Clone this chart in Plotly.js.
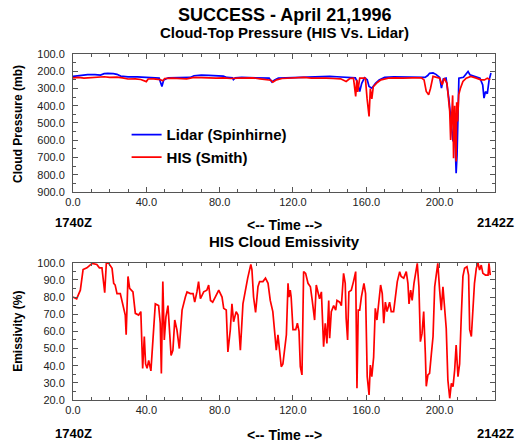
<!DOCTYPE html>
<html>
<head>
<meta charset="utf-8">
<script src="https://cdn.plot.ly/plotly-3.0.1.min.js"></script>
<style>html,body{margin:0;padding:0;background:#fff;}#chart{width:517px;height:443px;}</style>
</head>
<body>
<div id="chart"></div>
<script>
// ---- Top panel: cloud-top pressure (mb) vs time index ----
var lidarT = [0,2,5,8,12,15,17,19,22,24,26,30,35,40,44,47,48.5,49.5,52,56,60,64,66,70,74,78,82,84,87,87.5,88.5,92,96,100,104,107,108.5,110,112,116,120,124,128,132,136,140,144,148,150,152,154,155,156.4,157.5,159,160.5,161.5,163,165,167,170,175,180,185,190,192,193.5,194.5,196.4,198,200,201,202,203.5,205,206,207.3,208.2,209,209.5,210,210.5,213,215.5,216.5,220,222,223.5,224.2,225,226,227,228];
var lidarP = [230,228,222,220,220,222,214,212,214,218,228,233,233,235,237,240,288,250,238,237,236,236,226,222,224,226,228,236,238,248,238,236,237,236,238,240,262,250,240,238,238,236,232,234,232,230,232,236,238,240,238,260,317,270,238,250,288,298,270,250,236,232,233,234,235,236,225,212,210,218,236,298,245,240,356,462,607,530,791,685,336,240,235,201,220,230,240,280,356,318,330,250,210];

var hisT = [0,3,6,10,14,17,20,24,27,30,34,37,40,41,44,46,47.5,49,50,54,58,62,66,70,74,78,82,86,90,94,98,102,106,108,109,111,114,118,122,126,130,134,138,142,146,149,151,153,154.2,154.8,155.3,156.4,158,159.5,160.4,161.5,162.2,163,163.8,165,166,168,172,176,180,185,190,191.5,192.7,194,195,196.4,199,200,201.4,202.5,204,205.5,206,206.6,207.1,207.6,208.2,209,209.3,209.8,210.4,211.3,212.7,214.5,217,220,222.5,224.5,226,227.6];
var hisP = [238,236,240,236,236,232,236,234,238,245,244,248,260,245,244,246,248,255,242,240,240,244,236,238,238,240,238,242,240,240,238,244,250,252,263,250,242,240,238,236,240,238,240,242,244,259,242,240,346,250,320,240,238,240,356,462,300,360,290,275,265,250,240,238,240,238,238,250,317,336,300,230,235,240,278,240,270,433,598,400,340,704,400,723,380,491,336,300,259,240,230,240,250,250,240,250];

// ---- Bottom panel: HIS cloud emissivity (%) ----
var emisT = [0,2,4,5.5,7.6,10.4,13,14.4,15.8,16.7,17.3,18.2,19.5,21.3,22.2,23,24,25.8,27.3,28.5,29,30,30.9,32.7,34,35.8,37,37.6,38,38.9,39.6,40.4,41.3,42.5,43.6,44.9,46.7,47.6,48.2,49,49.8,50.7,51.8,52.5,53.5,54.5,55.5,56.7,58,59.5,60.4,61.3,62.2,64,65.5,66.4,67.6,68.5,69.5,71.3,73,74,75,76.2,77.6,79.5,81.3,82.2,83.6,84.5,85.8,86.7,87.6,89,90,91.3,92.7,94,95.3,97,97.6,98.5,99.6,100.9,101.8,103.6,105,106.4,107.6,109,110,110.9,111.8,112.7,113.6,114.5,115.5,116.4,117.3,117.8,118.5,119,120,121.5,122.4,123.3,124,124.9,125.8,126.9,128.2,129.5,130.5,131.8,132.7,133.6,134.5,135.5,136.7,137.6,138.5,139.5,140,140.9,142.2,143.3,144,145.5,146.4,147.6,148.5,149,149.8,150.5,151.8,153,154.2,154.9,155.6,156.4,157.3,158.7,159.6,160.5,161.5,162.2,163,164,164.9,165.8,166.9,167.8,168.7,169.5,170.4,171.3,172.7,173.6,174.9,176,176.9,178.2,179,180.4,181.8,182.7,183.3,184.2,185,186,186.9,187.8,188.7,189.5,190.4,191.3,192.2,192.7,193.6,194.5,195.5,196.4,197.3,198.2,199,200,200.9,201.8,202.7,203.6,204.5,205.5,206.4,207.3,208.2,209,210,210.9,211.8,212.7,213.6,214.9,215.8,216.4,217.3,218.2,219,220,220.9,221.8,222.7,223.6,225,226.4,226.9,227.6];
var emisV = [80,79,84,96,97,99.6,99,97,97,88,82.5,100,99.6,96.7,88,87,82,82,75,69.5,58,92,85,83,70.5,69.5,71.5,49,38.4,57,41,38.5,43,37,57,76,75,64.7,35.5,89,55,68.5,75,62.7,46,49,66.6,60.8,50,72.4,77,80,83,82,82,77,83,89,79,83,84,87,78,77,80,84,80,73.4,72.4,48,60.8,76,65.6,71.5,69.5,49,76,84,91,99,96,80,71,86,89,89,91,88,78,71.5,57,49,58,49,39.4,41,49,58,88,80,84,80,61,61,64.7,60,39.4,34.6,94.8,93.8,88,86,78,66.6,87,83,79,83,51,64.7,53,78,56,71.5,75,72.4,78,77,75,93.8,88,67.6,55,83,84,89,94.8,26.8,72.4,72.4,80,88,82,33.6,23,40.4,33.6,45,73.4,66.6,78,87,82,64.7,77,71.5,77,71.5,71.5,82,89,94.8,92,91,94.8,88,76,84,78,88,92.8,99.6,86,54,58.8,71.5,47,28,34.6,35.5,47,57,86,94.8,99.6,84,72.4,86,74.4,61.7,31.6,21,29.7,27.8,37.5,52,33.6,41,68.5,92,96.7,97.7,92.8,61,57,73.4,88,96.7,100,95.7,98.6,93.8,92.8,92.8,99.6,92.8];

var seriesNames = ['Lidar (Spinhirne)', 'HIS (Smith)'];
var xTickLabelsLeft = '1740Z', xTickLabelsRight = '2142Z', xAxisLabel = '<-- Time -->';

var traces = [
  {x: lidarT, y: lidarP, name: seriesNames[0], type: 'scatter', mode: 'lines',
   line: {color: '#0000ff', width: 1.7}, xaxis: 'x', yaxis: 'y'},
  {x: hisT, y: hisP, name: seriesNames[1], type: 'scatter', mode: 'lines',
   line: {color: '#ff0000', width: 1.7}, xaxis: 'x', yaxis: 'y'},
  {x: emisT, y: emisV, name: 'Emissivity', type: 'scatter', mode: 'lines', showlegend: false,
   line: {color: '#ff0000', width: 1.7}, xaxis: 'x2', yaxis: 'y2'}
];

var tickFont = {family: 'Liberation Sans, Arial, sans-serif', size: 11, color: '#222'};
function xax(anchor) {
  return {anchor: anchor, domain: [0, 1], range: [0, 230.2], tickmode: 'linear', tick0: 0, dtick: 40,
    tickformat: '.1f', ticks: 'inside', ticklen: 5, tickcolor: '#555', showline: true, linecolor: '#555',
    linewidth: 1, mirror: 'allticks', showgrid: false, zeroline: false, tickfont: tickFont,
    minor: {ticks: 'inside', ticklen: 3, tick0: 0, dtick: 10, tickcolor: '#555', showgrid: false}};
}
function yax(anchor, dom, rng, t0, dt, mdt) {
  return {anchor: anchor, domain: dom, range: rng, tickmode: 'linear', tick0: t0, dtick: dt,
    tickformat: '.1f', ticks: 'inside', ticklen: 5, tickcolor: '#555', showline: true, linecolor: '#555',
    linewidth: 1, mirror: 'allticks', showgrid: false, zeroline: false, tickfont: tickFont,
    ticklabelstandoff: 5,
    minor: {ticks: 'inside', ticklen: 3, tick0: t0, dtick: mdt, tickcolor: '#555', showgrid: false}};
}

var bold = function (s) { return {family: 'Liberation Sans, Arial, sans-serif', size: s, color: '#000', weight: 'bold'}; };
function ann(text, x, y, size, extra) {
  var a = {text: '<b>' + text + '</b>', x: x, y: y, xref: 'paper', yref: 'paper', showarrow: false,
    xanchor: 'center', yanchor: 'middle', font: bold(size)};
  for (var k in extra) a[k] = extra[k];
  return a;
}

var layout = {
  width: 517, height: 443,
  margin: {l: 73, r: 22, t: 54, b: 43},
  paper_bgcolor: '#fff', plot_bgcolor: '#fff',
  showlegend: true,
  legend: {x: 0.127, y: 0.814, xanchor: 'left', yanchor: 'top', bgcolor: 'rgba(0,0,0,0)',
    font: bold(15), tracegroupgap: 0},
  xaxis: xax('y'),
  yaxis: yax('x', [0.6012, 1], [900, 100], 100, 100, 50),
  xaxis2: xax('y2'),
  yaxis2: yax('x2', [0, 0.3968], [20, 100], 20, 10, 5),
  annotations: [
    ann('SUCCESS - April 21,1996', 0.5, 1.1127, 18),
    ann('Cloud-Top Pressure (HIS Vs. Lidar)', 0.5, 1.0607, 15),
    ann('HIS Cloud Emissivity', 0.5, 0.4575, 15),
    ann(xTickLabelsLeft, 0, 0.5116, 13),
    ann(xAxisLabel, 0.5, 0.5058, 14),
    ann(xTickLabelsRight, 1, 0.5116, 13),
    ann(xTickLabelsLeft, 0, -0.0954, 13),
    ann(xAxisLabel, 0.5, -0.101, 14),
    ann(xTickLabelsRight, 1, -0.0954, 13),
    ann('Cloud Pressure (mb)', -0.1303, 0.7977, 12, {textangle: -90}),
    ann('Emissivity (%)', -0.1303, 0.197, 12, {textangle: -90})
  ]
};

Plotly.newPlot('chart', traces, layout, {staticPlot: true, displayModeBar: false});
</script>
</body>
</html>
